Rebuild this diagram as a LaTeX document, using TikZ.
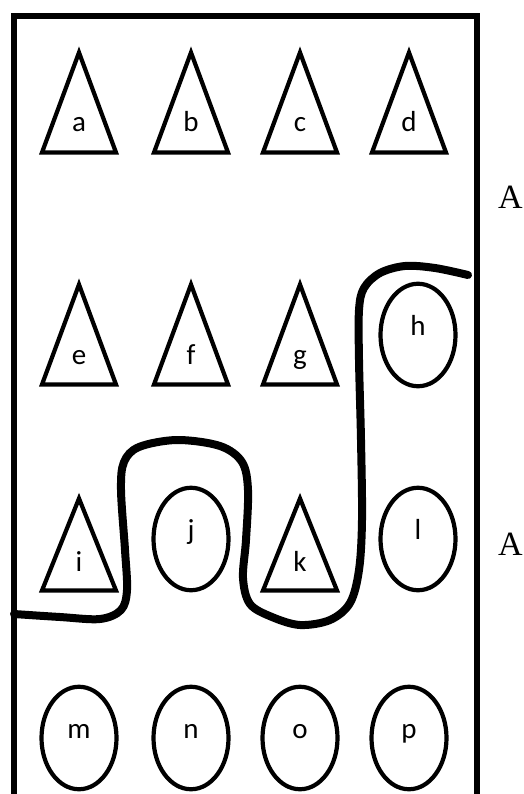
\documentclass[tikz,border=0pt]{standalone}
\usepackage{fontspec}
\setmainfont{Carlito}
\newfontfamily\sidefont{Liberation Serif}
\usetikzlibrary{shapes.geometric}

\tikzset{
    pics/cone/.style={code={
        \draw[conepath] (-37,50) -- (0,-50) -- (37,50) -- cycle;
        \node[lbl, anchor=base] (-t) at (0,29.5) {#1};
    }},
}

\begin{document}
\begin{tikzpicture}[
    x=1pt, y=-1pt,
    conepath/.style={draw=black, line width=4.2pt, line join=miter},
    lbl/.style={font=\fontsize{29}{31}\selectfont, inner sep=0pt},
    blob/.style={
        ellipse, draw=black, line width=4.2pt,
        minimum width=75, minimum height=102.5,
        inner sep=0pt, text height=10pt, text depth=10pt,
        font=\fontsize{29}{31}\selectfont,
    },
    sidetag/.style={font=\sidefont\fontsize{34}{36}\selectfont, inner sep=0pt, anchor=base},
    wall/.style={line width=6pt, line cap=rect},
    cut/.style={line width=8pt, line cap=round, line join=round},
]
\useasboundingbox (0,0) rectangle (523,794);

% frame
\draw[wall] (13.5,800) -- (13.5,16) -- (476.5,16) -- (476.5,800);

% first row
\pic (a) at (79,102.5) {cone=a};
\pic (b) at (191,102.5) {cone=b};
\pic (c) at (300,102.5) {cone=c};
\pic (d) at (409,102.5) {cone=d};

% second row
\pic (e) at (79,334.5) {cone=e};
\pic (f) at (191,334.5) {cone=f};
\pic (g) at (300,334.5) {cone=g};
\node[blob] (h) at (418,335) {h};

% third row
\pic[yscale=0.92] (i) at (79,544.5) {cone=i};
\node[blob] (j) at (191,539) {j};
\pic[yscale=0.92] (k) at (300,544.5) {cone=k};
\node[blob] (l) at (418,539) {l};

% last row
\node[blob] (m) at (79,738) {m};
\node[blob] (n) at (191,738) {n};
\node[blob] (o) at (300,738) {o};
\node[blob] (p) at (409,738) {p};

% side marks
\node[sidetag] (A1) at (510.5,208) {A};
\node[sidetag] (A2) at (510.5,555) {A};

% the cut line
\draw[cut] plot[smooth, tension=0.55] coordinates {
    (14,614) (60,617) (100,619) (121,610) (127,590) (125,550) (121,490)
    (124,462) (139,447) (177,440) (220,446) (242,462) (248,490) (246,540)
    (243,578) (250,604) (272,617) (300,625) (330,620) (350,603) (359,570)
    (362,520) (361,440) (359,360) (359,310) (364,288) (380,273) (405,266)
    (435,268) (468,275)
};

\end{tikzpicture}
\end{document}
